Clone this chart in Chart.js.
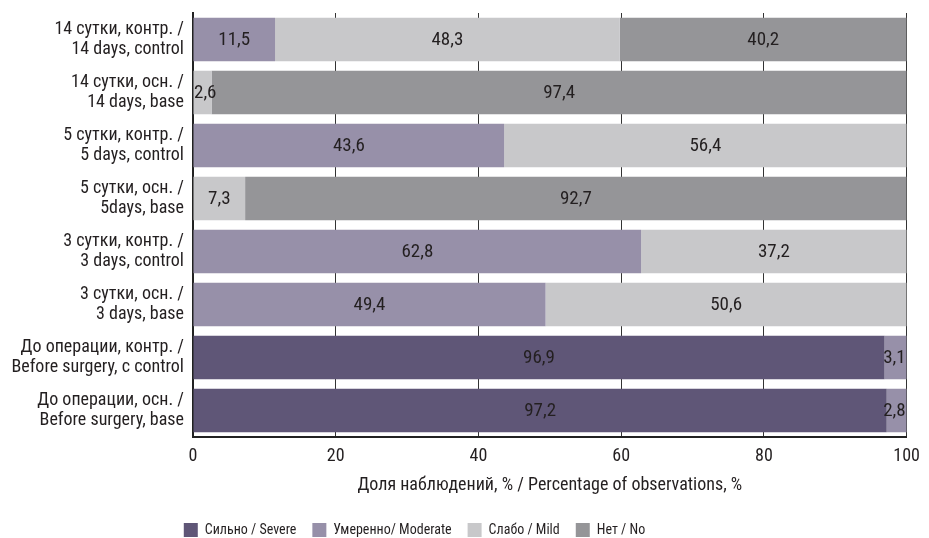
<!DOCTYPE html>
<html>
<head>
<meta charset="utf-8">
<script src="https://cdn.jsdelivr.net/npm/chart.js@4/dist/chart.umd.min.js"></script>
<style>
  html, body { margin: 0; padding: 0; background: #fff; }
  #wrap { width: 929px; height: 538px; }
</style>
</head>
<body>
<div id="wrap"><canvas id="grafico"></canvas></div>
<script>
// категории сверху вниз
const categorias = [
    ['14 сутки, контр. /', '14 days, control'],
    ['14 сутки, осн. /', '14 days, base'],
    ['5 сутки, контр. /', '5 days, control'],
    ['5 сутки, осн. /', '5days, base'],
    ['3 сутки, контр. /', '3 days, control'],
    ['3 сутки, осн. /', '3 days, base'],
    ['До операции, контр. /', 'Before surgery, c control'],
    ['До операции, осн. /', 'Before surgery, base']
];

const silno = [0, 0, 0, 0, 0, 0, 96.9, 97.2];
const umerenno = [11.5, 0, 43.6, 0, 62.8, 49.4, 3.1, 2.8];
const slabo = [48.3, 2.6, 56.4, 7.3, 37.2, 50.6, 0, 0];
const net = [40.2, 97.4, 0, 92.7, 0, 0, 0, 0];

const ticksX = [0, 20, 40, 60, 80, 100];

const FONTE = '"Liberation Sans Narrow", "Roboto Condensed", "Arial Narrow", sans-serif';

// подписи значений внутри сегментов
const rotulos = {
    id: 'rotulos',
    afterDatasetsDraw(chart) {
        const ctx = chart.ctx;
        const area = chart.chartArea;
        ctx.save();
        ctx.font = '19px ' + FONTE;
        ctx.fillStyle = '#231f20';
        ctx.textAlign = 'center';
        ctx.textBaseline = 'middle';
        chart.data.datasets.forEach((ds, i) => {
            const meta = chart.getDatasetMeta(i);
            meta.data.forEach((bar, j) => {
                const v = ds.data[j];
                if (!v) return;
                const txt = v.toFixed(1).replace('.', ',');
                const w = ctx.measureText(txt).width;
                let x = (bar.x + bar.base) / 2;
                x = Math.max(x, area.left + w / 2 + 1);
                x = Math.min(x, area.right - w / 2 - 1);
                ctx.fillText(txt, x, bar.y + 1);
            });
        });
        ctx.restore();
    }
};

// сдвиг легенды влево и вниз
const legendaDeslocada = {
    id: 'legendaDeslocada',
    afterLayout(chart) {
        const lg = chart.legend;
        lg.left -= 40;
        lg.right -= 40;
        lg.top += 8;
        lg.bottom += 8;
    }
};

const ctx = document.getElementById('grafico');

new Chart(ctx, {
    type: 'bar',
    data: {
        labels: categorias,
        datasets: [
            { label: 'Сильно / Severe', data: silno, backgroundColor: '#5f5677' },
            { label: 'Умеренно/ Moderate', data: umerenno, backgroundColor: '#9790a9' },
            { label: 'Слабо / Mild', data: slabo, backgroundColor: '#c8c8ca' },
            { label: 'Нет / No', data: net, backgroundColor: '#959598' }
        ]
    },
    options: {
        indexAxis: 'y',
        responsive: true,
        maintainAspectRatio: false,
        animation: false,
        categoryPercentage: 1,
        barPercentage: 0.82,
        layout: { padding: { top: 13, right: 20, left: 0, bottom: -1 } },
        plugins: {
            tooltip: { enabled: false },
            legend: {
                position: 'bottom',
                labels: {
                    boxWidth: 14,
                    boxHeight: 14,
                    padding: 16,
                    color: '#231f20',
                    font: { family: FONTE, size: 14 }
                }
            }
        },
        scales: {
            x: {
                stacked: true,
                min: 0,
                max: 100,
                afterBuildTicks(axis) {
                    axis.ticks = ticksX.map(v => ({ value: v }));
                },
                grid: { color: '#333', lineWidth: 1, drawTicks: false },
                border: { display: true, color: '#222', width: 2 },
                ticks: {
                    color: '#231f20',
                    padding: 9,
                    font: { family: FONTE, size: 18 }
                },
                title: {
                    display: true,
                    text: 'Доля наблюдений, % / Percentage of observations, %',
                    color: '#231f20',
                    padding: { top: 4, bottom: 3 },
                    font: { family: FONTE, size: 18 }
                },
                afterFit(axis) { axis.height = 62; }
            },
            y: {
                stacked: true,
                grid: { display: false },
                border: { display: true, color: '#222', width: 2 },
                ticks: {
                    color: '#231f20',
                    padding: 1,
                    font: { family: FONTE, size: 18, lineHeight: 1.15 }
                },
                afterFit(axis) {
                    axis.width = 193;
                    axis.paddingTop = 0;
                    axis.paddingBottom = 0;
                }
            }
        }
    },
    plugins: [rotulos, legendaDeslocada]
});
</script>
</body>
</html>
